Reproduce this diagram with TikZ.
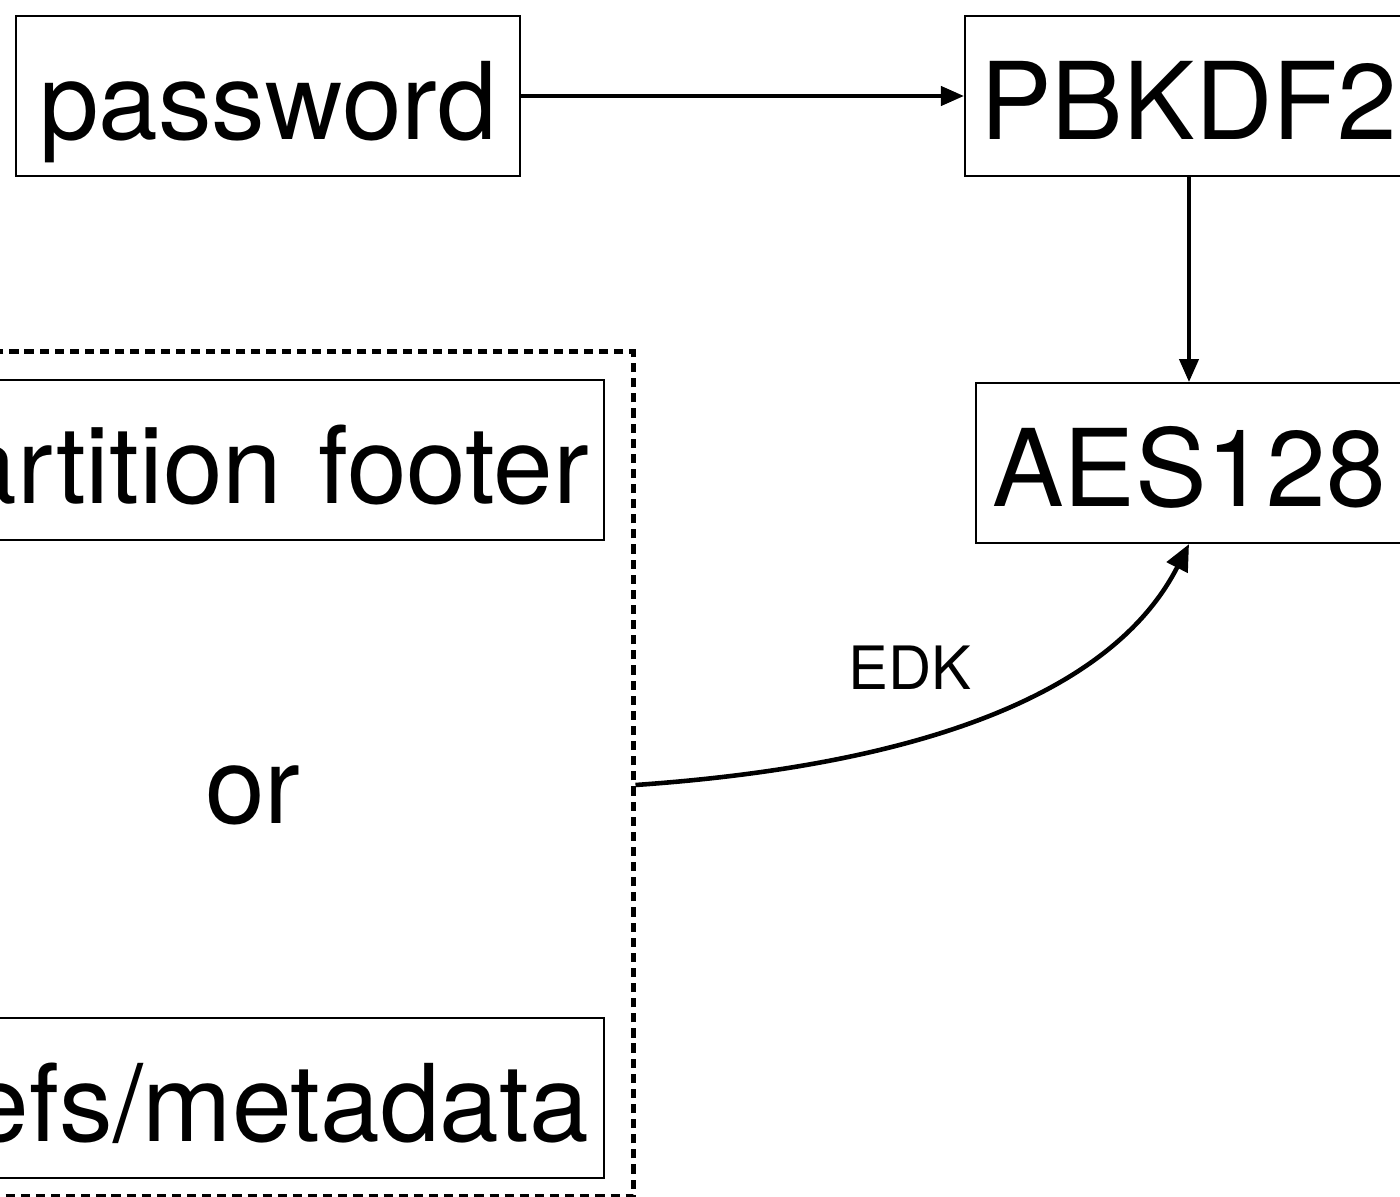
\documentclass[tikz,border=0pt]{standalone}
\usepackage{fontspec}
\setmainfont{TeX Gyre Heros}
\usetikzlibrary{arrows.meta,calc}

\begin{document}
\begin{tikzpicture}[x=0.01cm, y=-0.01cm,
  box/.style={rectangle, draw, line width=0.6pt, minimum height=1.6cm, inner sep=0pt, text height=0.86cm, text depth=0cm, font=\fontsize{30.5}{36}\selectfont},
  leftbox/.style={box, anchor=east, text width=7cm, align=right, inner xsep=0.15cm},
  flow/.style={line width=0.9pt, -{Triangle[length=6.5pt, width=5.5pt]}},
  group/.style={rectangle, draw, line width=1.3pt, dash pattern=on 2.6pt off 1.7pt, minimum width=7.33cm, minimum height=8.44cm}]
\clip (0,0) rectangle (1400,1197);
\useasboundingbox (0,0) rectangle (1400,1197);

\node[box, minimum width=5.04cm] (pw) at (268, 96) {password};
\node[box, minimum width=4.48cm] (kdf) at (1189, 96) {PBKDF2};
\node[box, minimum width=4.26cm] (aes) at (1189, 463) {AES128};

\node[group] (src) at (266.5, 774) {};
\node[leftbox] (footer) at (605, 460) {artition footer};
\node[box, draw=none] (or) at (253, 780) {or};
\node[leftbox] (meta) at (605, 1098) {efs/metadata};

\node[font=\fontsize{17}{20}\selectfont] (edk) at (910, 668) {EDK};

\draw[flow] (pw) -- (kdf);
\draw[flow] (kdf) -- (aes);
\draw[line width=1.3pt, -{Triangle[length=7.5pt, width=6.5pt]}] (src.east |- 0,785) to[out=4, in=-117, out looseness=1.28, in looseness=0.68] (aes.south);
\end{tikzpicture}
\end{document}
